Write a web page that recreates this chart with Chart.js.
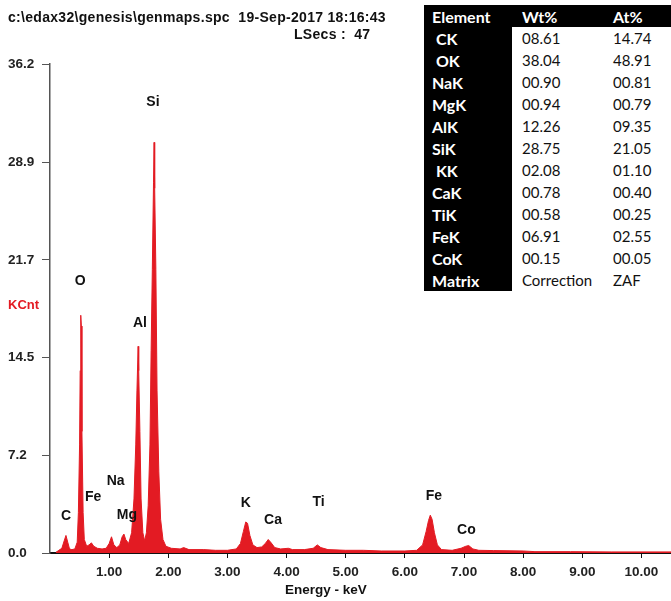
<!DOCTYPE html>
<html>
<head>
<meta charset="utf-8">
<script src="https://cdn.jsdelivr.net/npm/chart.js@4.4.1/dist/chart.umd.min.js"></script>
<style>
  html, body { margin: 0; padding: 0; background: #fff; }
  #wrap { position: relative; width: 671px; height: 601px; overflow: hidden; }
  #spectrum { position: absolute; left: 0; top: 0; }
  .lbl { position: absolute; font: bold 14px "Liberation Sans", Arial, sans-serif; color: #111; line-height: 16px; white-space: pre; }
  #kcnt { color: #e31b23; font-size: 13px; }
  #results { position: absolute; left: 424px; top: 5px; width: 247px; border-collapse: collapse;
    table-layout: fixed; background: #000; font: 15px Lato, "Open Sans", sans-serif; }
  #results td { height: 22px; padding: 0 0 0 10px; white-space: pre; overflow: hidden; }
  #results td.el { color: #fff; font-weight: bold; font-size: 16px; padding-left: 8px; }
  #results td.v { background: #fff; color: #111; }
  #results tr.head td { color: #fff; font-weight: bold; font-size: 16px; background: #000; }
</style>
</head>
<body>
<div id="wrap">
  <canvas id="spectrum" width="671" height="601"></canvas>
  <div class="lbl" style="left:8px;top:9px;letter-spacing:0.3px;">c:\edax32\genesis\genmaps.spc  19-Sep-2017 18:16:43</div>
  <div class="lbl" style="left:294px;top:26px;letter-spacing:0.3px;">LSecs :  47</div>
  <div class="lbl" id="kcnt" style="left:8px;top:297px;">KCnt</div>
  <div class="lbl" style="left:285px;top:582px;font-size:13.5px;">Energy - keV</div>
  <table id="results">
    <colgroup><col style="width:88px"><col style="width:91px"><col style="width:68px"></colgroup>
    <tbody id="resultsBody"></tbody>
  </table>
</div>
<script>
// spectrum (keV, KCnt)
const energy = [0.10, 0.15, 0.20, 0.24, 0.27, 0.30, 0.33, 0.37, 0.42, 0.46,
  0.48, 0.50, 0.51, 0.52, 0.53, 0.54, 0.56, 0.58, 0.62, 0.66,
  0.70, 0.74, 0.80, 0.88, 0.95, 1.00, 1.04, 1.08, 1.13, 1.18,
  1.22, 1.25, 1.28, 1.33, 1.38, 1.42, 1.45, 1.47, 1.49, 1.50,
  1.52, 1.54, 1.57, 1.60, 1.63, 1.66, 1.69, 1.71, 1.73, 1.75,
  1.76, 1.77, 1.79, 1.81, 1.84, 1.87, 1.91, 1.96, 2.05, 2.20,
  2.26, 2.35, 2.60, 2.80, 3.00, 3.15, 3.22, 3.27, 3.31, 3.34,
  3.38, 3.43, 3.50, 3.58, 3.64, 3.69, 3.74, 3.80, 3.90, 4.03,
  4.10, 4.30, 4.45, 4.52, 4.58, 4.70, 5.00, 5.30, 5.60, 6.00,
  6.20, 6.30, 6.36, 6.40, 6.43, 6.46, 6.50, 6.55, 6.62, 6.80,
  6.95, 7.03, 7.08, 7.15, 7.25, 7.50, 8.00, 8.20, 8.80, 9.50, 10.50];
const counts = [0.05, 0.2, 0.35, 0.9, 1.3, 0.8, 0.3, 0.25, 0.3, 0.8,
  3.0, 8.0, 13.5, 17.6, 16.8, 9.0, 3.0, 1.0, 0.5, 0.6,
  0.75, 0.5, 0.35, 0.3, 0.35, 0.7, 1.2, 0.6, 0.4, 0.6,
  1.2, 1.4, 1.0, 0.7, 1.5, 4.0, 8.0, 12.0, 15.3, 13.5,
  9.0, 4.0, 1.5, 0.9, 1.5, 3.5, 8.0, 15.0, 21.0, 27.4,
  30.4, 27.0, 21.0, 12.0, 6.0, 2.5, 1.0, 0.5, 0.35, 0.3,
  0.4, 0.25, 0.25, 0.2, 0.2, 0.3, 0.7, 1.6, 2.3, 2.2,
  1.3, 0.6, 0.4, 0.45, 0.7, 1.0, 0.75, 0.4, 0.3, 0.35,
  0.25, 0.25, 0.35, 0.6, 0.4, 0.25, 0.2, 0.2, 0.15, 0.15,
  0.2, 0.6, 1.6, 2.4, 2.8, 2.5, 1.5, 0.6, 0.25, 0.2,
  0.35, 0.5, 0.55, 0.3, 0.2, 0.18, 0.15, 0.1, 0.1, 0.08, 0.08];

// peak labels (name, keV, KCnt where the text sits)
const peakNames = ['C', 'O', 'Fe', 'Na', 'Mg', 'Al', 'Si', 'K', 'Ca', 'Ti', 'Fe', 'Co'];
const peakE = [0.27, 0.51, 0.73, 1.11, 1.30, 1.52, 1.74, 3.31, 3.77, 4.54, 6.49, 7.04];
const peakY = [2.7, 20.1, 4.1, 5.3, 2.8, 17.0, 33.4, 3.7, 2.4, 3.8, 4.2, 1.7];

const yTicks = [0.0, 7.2, 14.5, 21.7, 28.9, 36.2];
const xTicks = [1, 2, 3, 4, 5, 6, 7, 8, 9, 10];

// quantification table
const elements = [' CK', ' OK', 'NaK', 'MgK', 'AlK', 'SiK', ' KK', 'CaK', 'TiK', 'FeK', 'CoK', 'Matrix'];
const wtPct = ['08.61', '38.04', '00.90', '00.94', '12.26', '28.75', '02.08', '00.78', '00.58', '06.91', '00.15', 'Correction'];
const atPct = ['14.74', '48.91', '00.81', '00.79', '09.35', '21.05', '01.10', '00.40', '00.25', '02.55', '00.05', 'ZAF'];

const tbody = document.getElementById('resultsBody');
tbody.innerHTML = '<tr class="head"><td class="el">Element</td><td>Wt%</td><td>At%</td></tr>';
elements.forEach((el, i) => {
  const row = document.createElement('tr');
  row.innerHTML = `<td class="el">${el}</td><td class="v">${wtPct[i]}</td><td class="v">${atPct[i]}</td>`;
  tbody.appendChild(row);
});

const red = '#e31b23';
const axisFont = { family: '"Liberation Sans", Arial, sans-serif', size: 13.5, weight: 'bold' };

const peakLabels = {
  id: 'peakLabels',
  afterDatasetsDraw(chart) {
    const c = chart.ctx;
    const xs = chart.scales.x, ys = chart.scales.y;
    c.save();
    c.font = 'bold 14px "Liberation Sans", Arial, sans-serif';
    c.fillStyle = '#111';
    c.textAlign = 'center';
    c.textBaseline = 'middle';
    peakNames.forEach((name, i) => {
      c.fillText(name, xs.getPixelForValue(peakE[i]), ys.getPixelForValue(peakY[i]));
    });
    c.restore();
  }
};

new Chart(document.getElementById('spectrum'), {
  type: 'line',
  data: {
    datasets: [{
      data: energy.map((e, i) => ({ x: e, y: counts[i] })),
      borderColor: red,
      backgroundColor: red,
      borderWidth: 1,
      fill: 'origin',
      pointRadius: 0,
      tension: 0
    }]
  },
  options: {
    responsive: false,
    animation: false,
    layout: { padding: { left: 8, top: 64, right: 0, bottom: 0 } },
    plugins: { legend: { display: false }, tooltip: { enabled: false } },
    scales: {
      x: {
        type: 'linear',
        min: 0,
        max: 10.5,
        afterBuildTicks: s => { s.ticks = xTicks.map(v => ({ value: v })); },
        afterFit: s => { s.height = 48; },
        grid: { drawOnChartArea: false, drawTicks: true, tickLength: 5, color: '#111' },
        border: { display: true, color: '#111', width: 2 },
        ticks: { color: '#222', font: axisFont, padding: 6, maxRotation: 0,
          callback: v => v.toFixed(2) }
      },
      y: {
        min: 0,
        max: 36.2,
        afterBuildTicks: s => { s.ticks = yTicks.map(v => ({ value: v })); },
        afterFit: s => { s.width = 42; },
        grid: { drawOnChartArea: false, drawTicks: true, tickLength: 8, color: '#555' },
        border: { display: true, color: '#555', width: 1.5 },
        ticks: { color: '#222', font: axisFont, crossAlign: 'far',
          callback: v => v.toFixed(1) }
      }
    }
  },
  plugins: [peakLabels]
});
</script>
</body>
</html>
